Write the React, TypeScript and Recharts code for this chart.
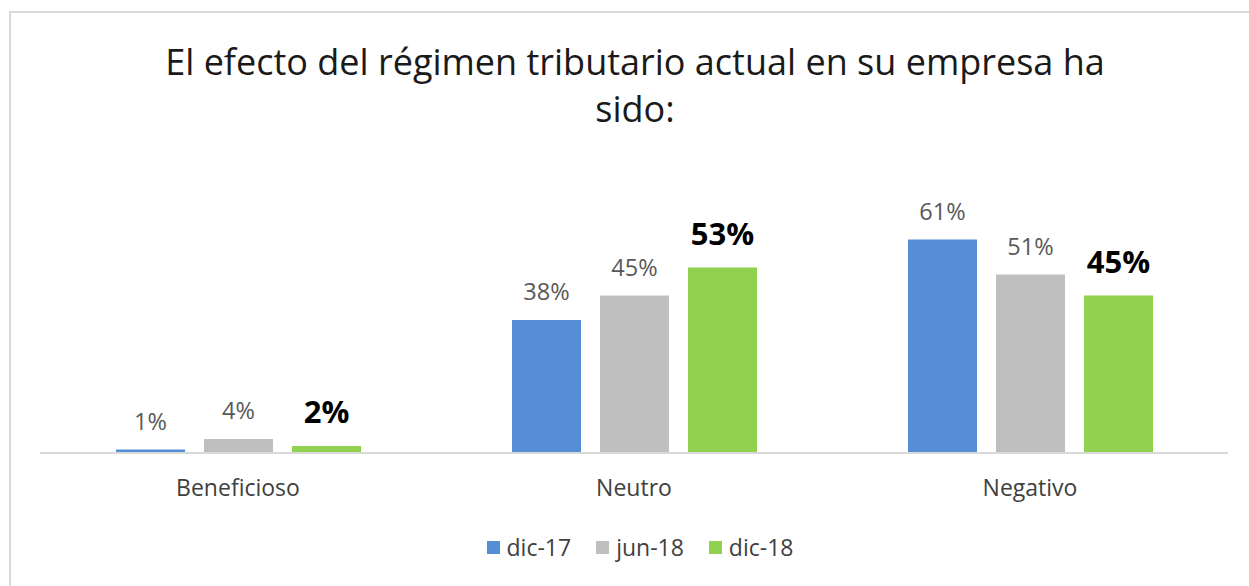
import { BarChart, Bar, XAxis, YAxis, LabelList } from "recharts";

const categories = ["Beneficioso", "Neutro", "Negativo"];
const dic17 = [1, 38, 61];
const jun18 = [4, 45, 51];
const dic18 = [2, 53, 45];

const seriesNames = ["dic-17", "jun-18", "dic-18"];
const seriesColors = ["#558ed5", "#bfbfbf", "#92d050"];

const data = categories.map((name, i) => ({
  name,
  d17: dic17[i],
  j18: jun18[i],
  d18: dic18[i],
}));

const FONT = "'Open Sans', Lato, sans-serif";

const pct = (v: any) => `${v}%`;

export default function App() {
  return (
    <div style={{ position: "relative", width: 1249, height: 586, overflow: "hidden", background: "#fff" }}>
      <style>{`body{margin:0}`}</style>
      {/* chart frame, only left and top edges fall inside the picture */}
      <div
        style={{
          position: "absolute",
          left: 9,
          top: 11,
          width: 1300,
          height: 700,
          borderLeft: "2px solid #d9d9d9",
          borderTop: "2px solid #d9d9d9",
        }}
      />
      <div
        style={{
          position: "absolute",
          left: 0,
          top: 38,
          width: 1270,
          textAlign: "center",
          fontFamily: FONT,
          fontSize: 36,
          lineHeight: "47px",
          color: "#1a1a1a",
        }}
      >
        El efecto del régimen tributario actual en su empresa ha
        <br />
        sido:
      </div>
      <div style={{ position: "absolute", left: 0, top: 0 }}>
        <BarChart
          width={1249}
          height={586}
          data={data}
          margin={{ top: 208, right: 21, bottom: 73, left: 40 }}
          barCategoryGap="19%"
          barGap={19}
        >
          <XAxis
            dataKey="name"
            height={60}
            tickLine={false}
            axisLine={{ stroke: "#d9d9d9", strokeWidth: 2 }}
            tick={{ fontFamily: FONT, fontSize: 23, fill: "#404040" }}
            tickMargin={21}
          />
          <YAxis hide domain={[0, 70]} />
          <Bar dataKey="d17" name={seriesNames[0]} fill={seriesColors[0]} barSize={69} isAnimationActive={false}>
            <LabelList
              dataKey="d17"
              position="top"
              offset={20}
              formatter={pct}
              style={{ fontFamily: FONT, fontSize: 23.5, fill: "#595959" }}
            />
          </Bar>
          <Bar dataKey="j18" name={seriesNames[1]} fill={seriesColors[1]} barSize={69} isAnimationActive={false}>
            <LabelList
              dataKey="j18"
              position="top"
              offset={20}
              formatter={pct}
              style={{ fontFamily: FONT, fontSize: 23.5, fill: "#595959" }}
            />
          </Bar>
          <Bar dataKey="d18" name={seriesNames[2]} fill={seriesColors[2]} barSize={69} isAnimationActive={false}>
            <LabelList
              dataKey="d18"
              position="top"
              offset={23}
              formatter={pct}
              style={{ fontFamily: FONT, fontSize: 31, fontWeight: 700, fill: "#000" }}
            />
          </Bar>
        </BarChart>
      </div>
      {/* legend */}
      <div
        style={{
          position: "absolute",
          left: 0,
          top: 532,
          width: 1280,
          display: "flex",
          justifyContent: "center",
          gap: 25,
          fontFamily: FONT,
          fontSize: 23,
          lineHeight: "30px",
          color: "#404040",
        }}
      >
        {seriesNames.map((n, i) => (
          <div key={n} style={{ display: "flex", alignItems: "center" }}>
            <span
              style={{
                width: 13,
                height: 13,
                background: seriesColors[i],
                display: "inline-block",
                marginRight: 7,
              }}
            />
            {n}
          </div>
        ))}
      </div>
    </div>
  );
}
